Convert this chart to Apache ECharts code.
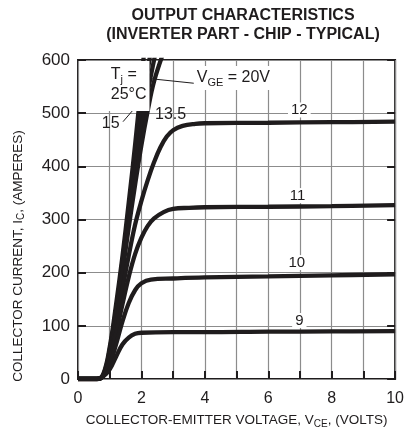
<!DOCTYPE html>
<html>
<head>
<meta charset="utf-8">
<script src="https://cdn.jsdelivr.net/npm/echarts@6/dist/echarts.min.js"></script>
<style>
  html, body { margin: 0; padding: 0; background: #fff; }
  #chart { width: 407px; height: 434px; }
</style>
</head>
<body>
<div id="chart"></div>
<script>
// V_CE (volts), I_C (amperes)
const vge20 = [[0,0],[0.6,0],[0.8,10],[1.0,60],[1.2,140],[1.4,230],[1.6,332],[1.8,440],[2.0,560],[2.1,625]];
const vge15 = [[0,0],[0.6,0],[0.8,8],[1.0,55],[1.2,130],[1.4,220],[1.6,315],[1.8,410],[2.0,500],[2.2,580],[2.3,620]];
const vgeMid = [[0,0],[0.6,0],[0.8,7],[1.0,50],[1.2,125],[1.4,210],[1.6,300],[1.8,390],[2.0,470],[2.2,540],[2.45,615]];
const vge135 = [[0,0],[0.6,0],[0.8,6],[1.0,45],[1.2,118],[1.4,200],[1.6,285],[1.8,365],[2.0,440],[2.2,505],[2.4,560],[2.7,615]];
const vge12 = [[0,0],[0.6,0],[0.8,7],[1.0,40],[1.2,100],[1.4,168],[1.6,232],[1.8,290],[2.0,335],[2.2,374],[2.4,408],[2.6,436],[2.8,456],[3.0,468],[3.3,476],[3.7,480],[4,481],[6,482],[8,483],[10,484]];
const vge11 = [[0,0],[0.6,0],[0.8,6],[1.0,35],[1.2,85],[1.4,140],[1.6,192],[1.8,235],[2.0,266],[2.2,288],[2.4,302],[2.7,314],[3.0,320],[3.5,322],[4,323],[6,324],[8,325],[10,327]];
const vge10 = [[0,0],[0.6,0],[0.8,6],[1.0,28],[1.2,65],[1.4,108],[1.6,143],[1.8,167],[2.0,180],[2.3,187],[3,189],[4,191],[6,193],[8,195],[10,197]];
const vge9 = [[0,0],[0.6,0],[0.8,5],[1.0,18],[1.2,42],[1.4,65],[1.6,78],[1.8,85],[2.0,87],[3,88],[4,88],[6,89],[8,89.5],[10,90]];

const xTicks = [0, 2, 4, 6, 8, 10];
const yTicks = [0, 100, 200, 300, 400, 500, 600];

const ink = '#1f1c1d';
const font = 'Liberation Sans, Arial, sans-serif';

const chart = echarts.init(document.getElementById('chart'));

function curve(name, data) {
    return {
        name: name,
        type: 'line',
        data: data,
        smooth: 0.4,
        showSymbol: false,
        clip: true,
        lineStyle: { color: ink, width: 4.3 },
        silent: true
    };
}

const sub = { fontSize: 11, fontFamily: font, color: ink, padding: [9, 0, 0, 0] };
const norm = { fontSize: 16, fontFamily: font, color: ink };

function note(coord, text, extra) {
    return {
        coord: coord,
        symbol: 'circle',
        symbolSize: 0,
        itemStyle: { color: 'rgba(0,0,0,0)' },
        label: Object.assign({
            show: true,
            position: 'inside',
            formatter: text,
            fontSize: 15,
            fontFamily: font,
            color: ink,
            rich: { n: norm, s: sub }
        }, extra || {})
    };
}

const series = [
    curve('VGE = 20V', vge20),
    curve('VGE = 15V', vge15),
    curve('VGE', vgeMid),
    curve('VGE = 13.5V', vge135),
    curve('VGE = 12V', vge12),
    curve('VGE = 11V', vge11),
    curve('VGE = 10V', vge10),
    curve('VGE = 9V', vge9)
];

series.push({
    name: 'notes',
    type: 'line',
    data: [],
    silent: true,
    markLine: {
        silent: true,
        symbol: 'none',
        label: { show: false },
        lineStyle: { color: ink, width: 1, type: 'solid' },
        data: [
            [{ coord: [2.1, 566] }, { coord: [3.7, 556] }],
            [{ coord: [1.42, 484] }, { coord: [2.2, 538] }]
        ]
    },
    markPoint: {
        silent: true,
        data: [
            note([0.78, 551], '{n|T}{s|j}{n| =}\n{n|25°C}', {
                backgroundColor: '#fff', padding: [4, 3, 6, 8], lineHeight: 20, align: 'left'
            }),
            note([4.9, 566], '{n|V}{s|GE}{n| = 20V}', { backgroundColor: '#fff', padding: [2, 3, 2, 3] }),
            note([1.03, 480], '15', { fontSize: 16 }),
            note([2.92, 498], '13.5', { fontSize: 16 }),
            note([6.98, 506], '12', { backgroundColor: '#fff', padding: [0, 3] }),
            note([6.92, 345], '11', { backgroundColor: '#fff', padding: [0, 3] }),
            note([6.9, 219], '10', { backgroundColor: '#fff', padding: [0, 3] }),
            note([6.98, 110], '9', { backgroundColor: '#fff', padding: [0, 3] })
        ]
    }
});

chart.setOption({
    backgroundColor: '#ffffff',
    animation: false,
    title: {
        text: 'OUTPUT CHARACTERISTICS\n(INVERTER PART - CHIP - TYPICAL)',
        left: 238,
        top: 1,
        textAlign: 'center',
        textStyle: { fontFamily: font, fontSize: 16, fontWeight: 'bold', color: ink, lineHeight: 19 }
    },
    grid: {
        left: 78, right: 9, top: 60, bottom: 54,
        show: true, borderColor: ink, borderWidth: 2, backgroundColor: 'transparent'
    },
    xAxis: {
        type: 'value',
        min: xTicks[0], max: xTicks[xTicks.length - 1], interval: 1,
        name: 'COLLECTOR-EMITTER VOLTAGE, V{s|CE}, (VOLTS)',
        nameLocation: 'middle',
        nameGap: 33,
        nameTextStyle: {
            fontFamily: font, fontSize: 13.5, color: ink,
            rich: { s: { fontSize: 10, fontFamily: font, color: ink, padding: [7, 0, 0, 0] } }
        },
        axisLine: { show: false },
        axisTick: { show: true, inside: true, length: 8, interval: 1, lineStyle: { color: ink, width: 2 } },
        axisLabel: {
            interval: 1, margin: 12, fontFamily: font, fontSize: 16, color: ink,
            formatter: v => xTicks.includes(v) ? String(v) : ''
        },
        splitLine: { show: true, interval: 0, lineStyle: { color: '#8c8c8c', width: 1.2 } }
    },
    yAxis: [{
        type: 'value',
        min: yTicks[0], max: yTicks[yTicks.length - 1], interval: 100,
        axisLine: { show: false },
        axisTick: { show: true, inside: true, length: 8, lineStyle: { color: ink, width: 2 } },
        axisLabel: { margin: 8, fontFamily: font, fontSize: 17, color: ink,
            formatter: v => yTicks.includes(v) ? String(v) : '' },
        splitLine: { show: true, lineStyle: { color: '#8c8c8c', width: 1.2 } }
    }, {
        type: 'value',
        position: 'right',
        min: yTicks[0], max: yTicks[yTicks.length - 1], interval: 100,
        axisLine: { show: false },
        axisTick: { show: true, inside: true, length: 8, lineStyle: { color: ink, width: 2 } },
        axisLabel: { show: false },
        splitLine: { show: false }
    }],
    graphic: [{
        type: 'text',
        x: 18,
        y: 256,
        rotation: Math.PI / 2,
        style: {
            text: 'COLLECTOR CURRENT, I{s|C}, (AMPERES)',
            fontFamily: font, fontSize: 13.5, fill: ink,
            align: 'center', verticalAlign: 'middle',
            rich: { s: { fontSize: 10, fontFamily: font, fill: ink, padding: [7, 0, 0, 0] } }
        }
    }],
    series: series
});
</script>
</body>
</html>
